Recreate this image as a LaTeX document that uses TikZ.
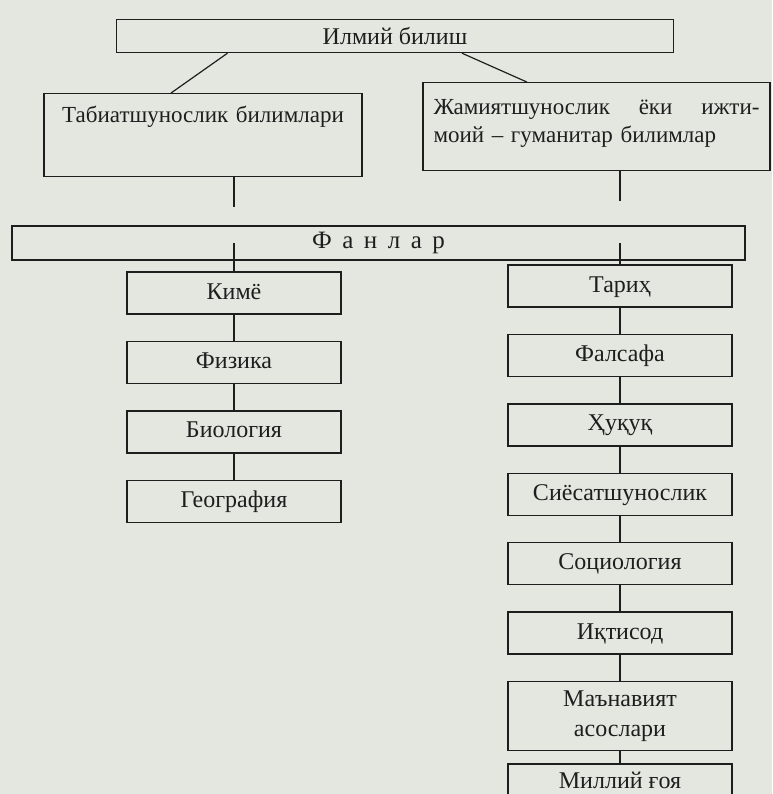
\documentclass[tikz,border=0pt]{standalone}
\usepackage{fontspec}
\setmainfont{Liberation Serif}
\usetikzlibrary{positioning,calc}
\definecolor{paper}{RGB}{228,231,223}
\definecolor{ink}{RGB}{30,30,30}
\tikzset{
  box/.style={draw=ink, line width=1.4pt, text=ink, inner sep=4pt,
    font=\fontsize{24}{30}\selectfont},
  cell/.style={box, minimum height=42pt, text height=17pt, text depth=5pt},
  lcell/.style={cell, minimum width=214pt},
  rcell/.style={cell, minimum width=224pt},
  link/.style={draw=ink, line width=1.2pt}
}
\begin{document}
\begin{tikzpicture}[x=1pt,y=-1pt,node distance=26pt]
    \fill[paper] (0,0) rectangle (772,794);
    \useasboundingbox (0,0) rectangle (772,794);
    \node[box,minimum width=557pt,minimum height=33pt,inner sep=0pt] (ilm) at (395,36) {Илмий билиш};
    \node[box,anchor=north,font=\fontsize{23}{28}\selectfont,text width=310pt,align=center,
      minimum height=83pt,inner ysep=13pt,text height=16pt,text depth=41pt] (tab) at (203,93) {Табиатшунослик билимлари};
    \node[box,anchor=north,font=\fontsize{23}{28}\selectfont,text width=326pt,align=left,
      inner xsep=10.5pt,inner ysep=12pt,text height=20pt,text depth=44pt] (jam) at (596.5,82)
      {Жамиятшунослик\hfill ёки\hfill ижти-\\моий -- гуманитар билимлар};
    \node[box,minimum width=733pt,minimum height=34pt,inner sep=0pt,
      font={\fontsize{25}{28}\selectfont\spaceskip=.42em\relax}] (fan) at (378.5,243) {Ф а н л а р};
    \node[lcell] (kim) at (234,293) {Кимё};
    \node[lcell] (fiz) [below=of kim] {Физика};
    \node[lcell] (bio) [below=of fiz] {Биология};
    \node[lcell] (geo) [below=of bio] {География};
    \node[rcell] (tar) at (620,286) {Тариҳ};
    \node[rcell] (fal) [below=of tar] {Фалсафа};
    \node[rcell] (huq) [below=of fal] {Ҳуқуқ};
    \node[rcell] (sie) [below=of huq] {Сиёсатшунослик};
    \node[rcell] (soc) [below=of sie] {Социология};
    \node[rcell] (ikt) [below=of soc] {Иқтисод};
    \node[box,minimum width=224pt,minimum height=69pt,align=center] (man) [below=of ikt] {Маънавият\\асослари};
    \node[rcell,text depth=9pt] (goy) [below=12pt of man] {Миллий ғоя};
    \draw[link] ($(ilm.south west)!.2!(ilm.south east)$) -- ($(tab.north west)!.4!(tab.north east)$);
    \draw[link] ($(ilm.south west)!.62!(ilm.south east)$) -- ($(jam.north west)!.3!(jam.north east)$);
    \draw[link,shorten >=18pt] (tab.south -| kim) -- (fan.north -| kim);
    \draw[link,shorten >=24pt] (jam.south -| tar) -- (fan.north -| tar);
    \draw[link] (fan.center -| kim) -- (kim.north);
    \draw[link] (fan.center -| tar) -- (tar.north);
    \path[link]
    (kim) edge (fiz)
    (fiz) edge (bio)
    (bio) edge (geo)
    (tar) edge (fal)
    (fal) edge (huq)
    (huq) edge (sie)
    (sie) edge (soc)
    (soc) edge (ikt)
    (ikt) edge (man)
    (man) edge (goy);
\end{tikzpicture}
\end{document}
